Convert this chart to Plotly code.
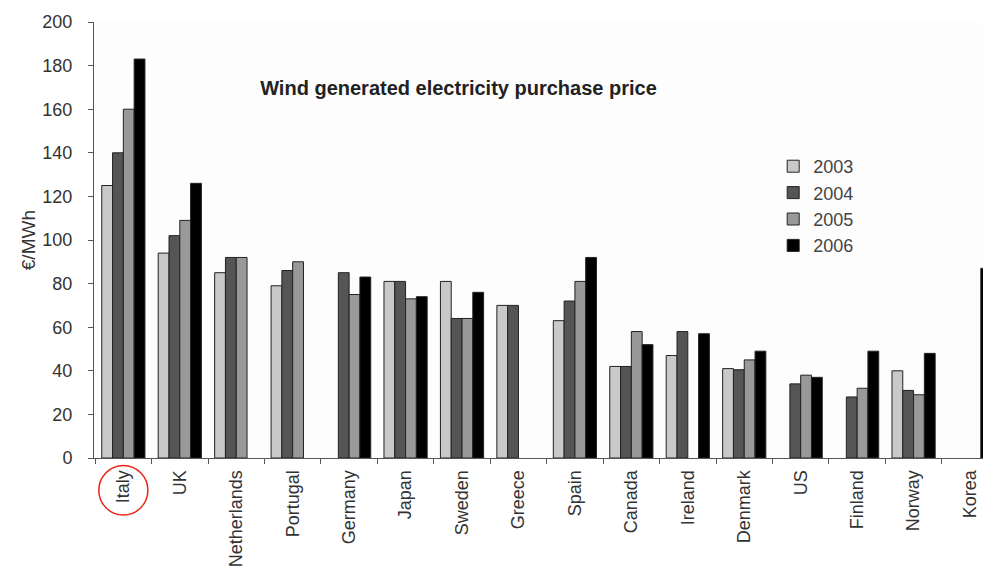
import plotly.graph_objects as go

countries = ["Italy", "UK", "Netherlands", "Portugal", "Germany", "Japan", "Sweden",
             "Greece", "Spain", "Canada", "Ireland", "Denmark", "US", "Finland",
             "Norway", "Korea"]
years = ["2003", "2004", "2005", "2006"]
v2003 = [125, 94, 85, 79, None, 81, 81, 70, 63, 42, 47, 41, None, None, 40, None]
v2004 = [140, 102, 92, 86, 85, 81, 64, 70, 72, 42, 58, 40.5, 34, 28, 31, None]
v2005 = [160, 109, 92, 90, 75, 73, 64, None, 81, 58, None, 45, 38, 32, 29, None]
v2006 = [183, 126, None, None, 83, 74, 76, None, 92, 52, 57, 49, 37, 49, 48, 87]
series = [v2003, v2004, v2005, v2006]
colors = ["#c9c9c9", "#555555", "#999999", "#000000"]

fig = go.Figure()
for name, vals, col in zip(years, series, colors):
    fig.add_trace(go.Bar(x=countries, y=vals, name=name,
                         marker=dict(color=col, line=dict(color="#222222", width=1))))

FONT = "Liberation Sans, Arial, sans-serif"
W, H = 983, 574
fig.update_layout(
    width=W, height=H,
    margin=dict(l=94, r=0, t=22, b=116),
    paper_bgcolor="#ffffff", plot_bgcolor="#fdfdfd",
    barmode="group", bargap=0.235, bargroupgap=0,
    font=dict(family=FONT, size=16, color="#333333"),
    title=dict(text="<b>Wind generated electricity purchase price</b>",
               font=dict(family=FONT, size=20, color="#222222"),
               xref="paper", x=0.41, xanchor="center",
               yref="container", y=1 - 88 / H, yanchor="middle"),
    legend=dict(x=0.764, y=0.711, xanchor="left", yanchor="top",
                bgcolor="rgba(0,0,0,0)", font=dict(size=18, color="#444444"),
                tracegroupgap=0),
    showlegend=True,
)
fig.update_xaxes(type="category", range=[-0.52, 15.23], showline=True,
                 linecolor="#555555", linewidth=1, ticks="outside", ticklen=5,
                 tickcolor="#555555", tickson="boundaries", tickangle=-90,
                 ticklabelstandoff=4,
                 tickfont=dict(size=18, color="#333333"), showgrid=False)
fig.update_yaxes(range=[0, 200], dtick=20, showline=True, linecolor="#555555",
                 linewidth=1, ticks="outside", ticklen=5, tickcolor="#555555",
                 ticklabelstandoff=12,
                 showgrid=False, zeroline=False,
                 tickfont=dict(size=18, color="#333333"))
fig.add_annotation(text="€/MWh", xref="paper", yref="paper", x=-0.074, y=0.5,
                   textangle=-90, showarrow=False,
                   font=dict(size=19, color="#333333"), xanchor="center", yanchor="middle")
fig.add_shape(type="circle", xref="x", yref="paper", x0=-0.435, x1=0.435,
              y0=-0.131, y1=-0.017, line=dict(color="#ee2211", width=1.5))

fig.write_html("out.html",
               config={"displayModeBar": False},
               post_script="document.body.style.margin='0';"
                           "document.body.style.overflow='hidden';"
                           "document.documentElement.style.overflow='hidden';")
